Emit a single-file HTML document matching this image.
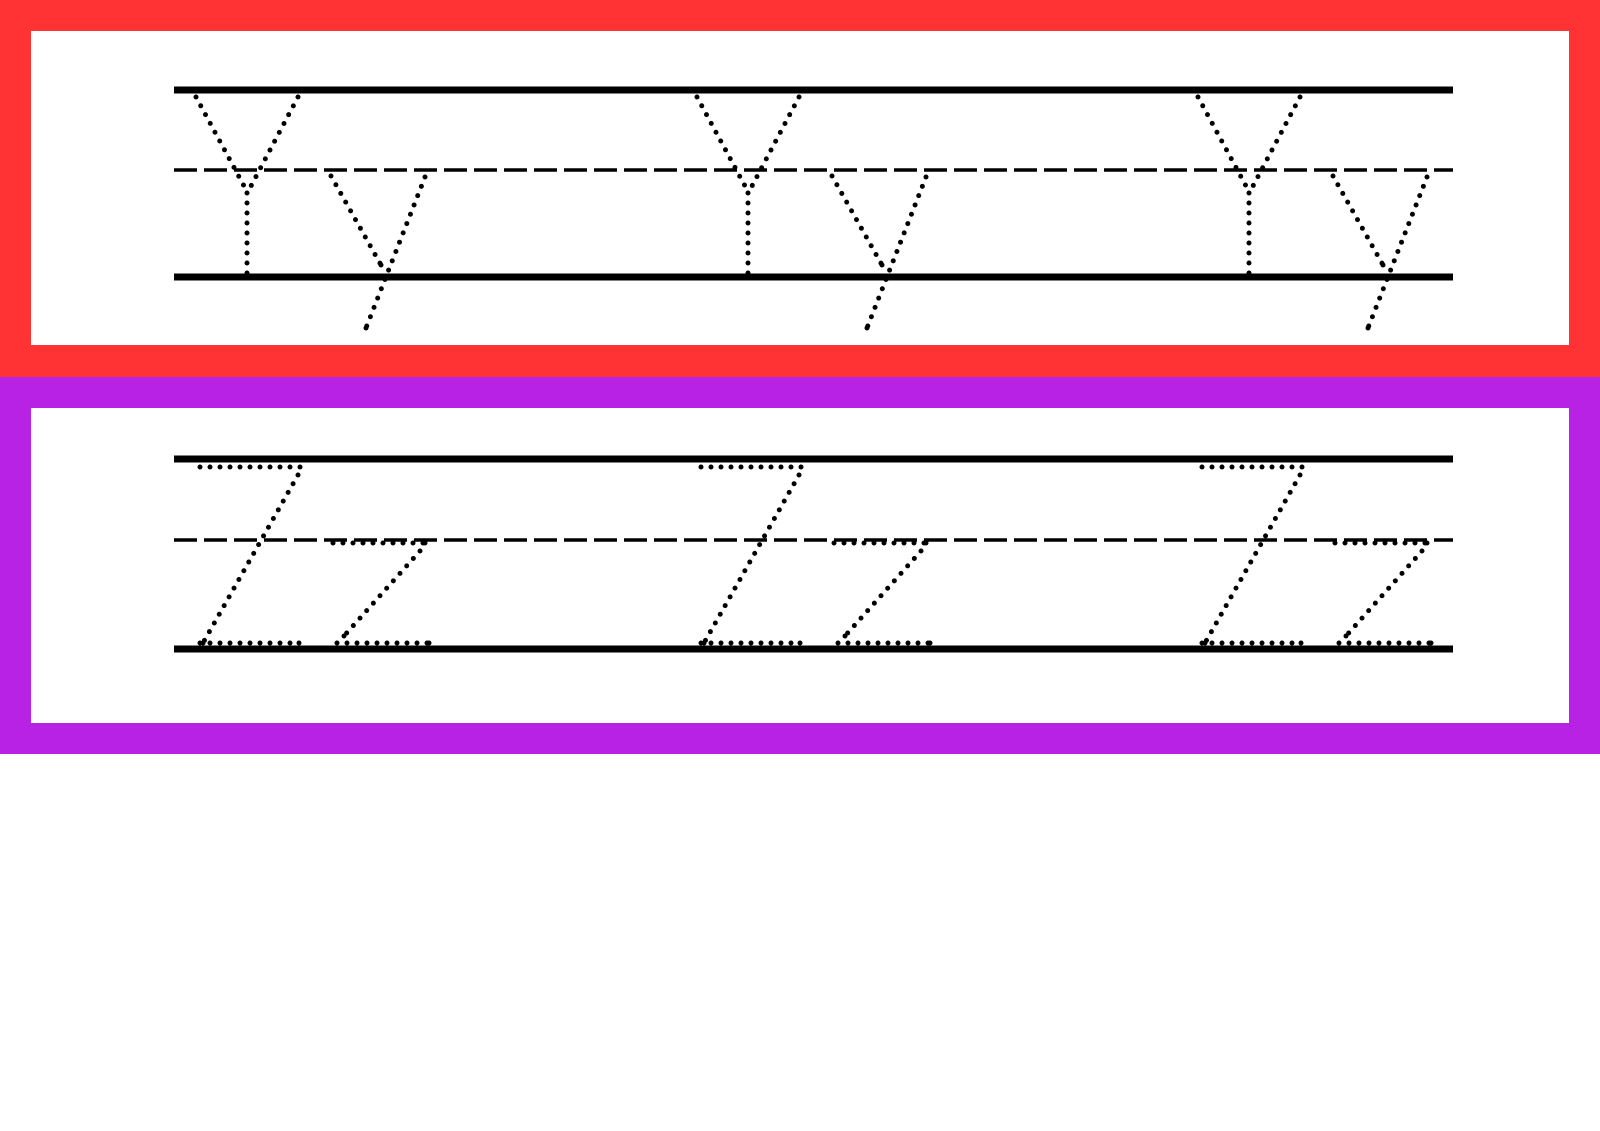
<!DOCTYPE html>
<html><head><meta charset="utf-8"><style>html,body{margin:0;padding:0;background:#fff}svg{display:block}</style></head>
<body>
<svg width="1600" height="1131" viewBox="0 0 1600 1131" xmlns="http://www.w3.org/2000/svg">
<rect x="0" y="0" width="1600" height="1131" fill="#fff"/>
<rect x="0" y="0" width="1600" height="377" fill="#FF3333"/>
<rect x="31" y="31" width="1538" height="314" fill="#fff"/>
<rect x="0" y="377" width="1600" height="377" fill="#B822E5"/>
<rect x="31" y="408" width="1538" height="315" fill="#fff"/>
<g stroke="#000" fill="none">
<line x1="174" y1="90" x2="1453" y2="90" stroke-width="7"/>
<line x1="174" y1="277" x2="1453" y2="277" stroke-width="7"/>
<line x1="174" y1="170" x2="1453" y2="170" stroke-width="3.5" stroke-dasharray="23 7"/>
<line x1="174" y1="459" x2="1453" y2="459" stroke-width="7"/>
<line x1="174" y1="649" x2="1453" y2="649" stroke-width="7"/>
<line x1="174" y1="540" x2="1453" y2="540" stroke-width="3.5" stroke-dasharray="23 7"/>
</g>
<defs>
<g id="yy">
<g stroke="#000" stroke-width="5" stroke-linecap="round" stroke-dasharray="0 10" fill="none">
<line x1="196" y1="97" x2="244" y2="186"/>
<line x1="298" y1="97" x2="251" y2="186"/>
<line x1="247" y1="193" x2="247" y2="273"/>
<line x1="331" y1="176" x2="381" y2="265"/>
<line x1="425" y1="177" x2="366" y2="328"/>
</g>
<g fill="#000"><circle cx="247" cy="273" r="2.5"/><circle cx="366" cy="328" r="2.5"/><circle cx="381" cy="265" r="2.5"/></g>
</g>
<g id="zz">
<g stroke="#000" stroke-width="5" stroke-linecap="round" stroke-dasharray="0 10" fill="none">
<line x1="200" y1="467" x2="300" y2="467"/>
<line x1="298" y1="475" x2="203" y2="643"/>
<line x1="200" y1="643" x2="300" y2="643"/>
<line x1="333" y1="543" x2="425" y2="543"/>
<line x1="420" y1="551" x2="344" y2="636"/>
<line x1="337" y1="643" x2="429" y2="643"/>
</g>
<g fill="#000"><circle cx="300" cy="467" r="2.5"/><circle cx="203" cy="643" r="2.5"/><circle cx="299" cy="643" r="2.5"/><circle cx="425" cy="543" r="2.5"/><circle cx="344" cy="636" r="2.5"/><circle cx="429" cy="643" r="2.5"/></g>
</g>
</defs>
<use href="#yy"/><use href="#yy" x="501"/><use href="#yy" x="1002"/>
<use href="#zz"/><use href="#zz" x="501"/><use href="#zz" x="1002"/>
</svg>
</body></html>
